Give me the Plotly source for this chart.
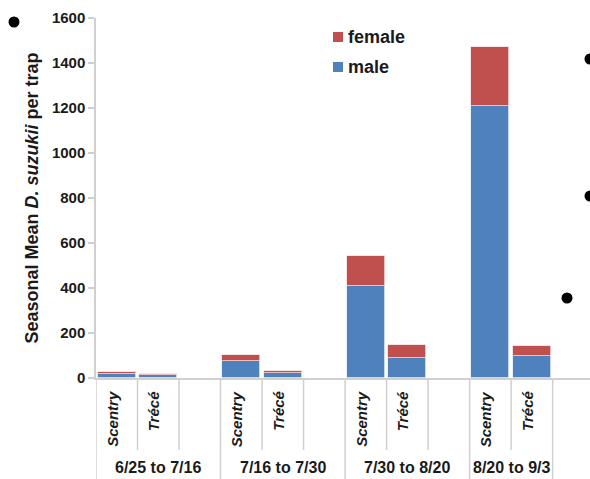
import plotly.graph_objects as go

# ---- data ----
periods = ["6/25 to 7/16", "7/16 to 7/30", "7/30 to 8/20", "8/20 to 9/3"]
traps = ["Scentry", "Trécé"]
male = [[20, 12], [77, 21], [410, 89], [1209, 99]]
female = [[8, 6], [24, 11], [134, 56], [263, 43]]
slots_per_group = [3, 3, 3, 2]
y_ticks = [0, 200, 400, 600, 800, 1000, 1200, 1400, 1600]
legend_items = [("female", "#C0504D"), ("male", "#4F81BD")]

FONT = "Liberation Sans, Arial, sans-serif"
TXT = "#1a1a1a"
AX = "#d0d0d0"
W, H = 590, 479
# page-pixel geometry of the plot area
PX0, PX1, PY0, PY1 = 96, 590, 18, 378
L, T, R, B = PX0, PY0, W - PX1, H - PY1
PW, PH = PX1 - PX0, PY1 - PY0


def xp(px):  # page pixel -> paper x
    return (px - PX0) / PW


def yp(py):  # page pixel -> paper y
    return (PY1 - py) / PH


xs, m_vals, f_vals = [], [], []
for g, p in enumerate(periods):
    for j, t in enumerate(traps):
        xs.append(g * 3 + j)
        m_vals.append(male[g][j])
        f_vals.append(female[g][j])

fig = go.Figure()
fig.add_trace(go.Bar(x=xs, y=m_vals, name="male",
                     marker=dict(color="#4F81BD", line=dict(color="#e6ecf5", width=0.8)), width=0.92))
fig.add_trace(go.Bar(x=xs, y=f_vals, name="female",
                     marker=dict(color="#C0504D", line=dict(color="#f2dcdc", width=0.8)), width=0.92))

shapes = []
annotations = []


def vline(xb, long):
    shapes.append(dict(type="line", xref="x", yref="paper", x0=xb, x1=xb, y0=0,
                       y1=yp(490) if long else yp(450), line=dict(color=AX, width=1.5)))


for g, p in enumerate(periods):
    start = g * 3 - 0.5
    n = slots_per_group[g]
    vline(start, True)
    for k in range(1, n):
        vline(start + k, False)
    if g == len(periods) - 1:
        vline(start + n, True)
    for j, t in enumerate(traps):
        annotations.append(dict(x=g * 3 + j, y=yp(389), xref="x", yref="paper", text="<b><i>%s</i></b>" % t,
                                textangle=-90, showarrow=False, xanchor="center", yanchor="top", xshift=-4,
                                font=dict(family=FONT, size=15, color=TXT)))
    annotations.append(dict(x=g * 3 + (n - 1) / 2, y=yp(467), xref="x", yref="paper",
                            text="<b>%s</b>" % p, showarrow=False, xanchor="center", yanchor="middle",
                            font=dict(family=FONT, size=16, color=TXT)))

# manual legend
for i, (name, col) in enumerate(legend_items):
    cy = 37 + 30 * i
    shapes.append(dict(type="rect", xref="paper", yref="paper", x0=xp(333), x1=xp(343),
                       y0=yp(cy + 5), y1=yp(cy - 5), fillcolor=col, line=dict(width=0)))
    annotations.append(dict(x=xp(346), y=yp(cy), xref="paper", yref="paper", text="<b>%s</b>" % name,
                            showarrow=False, xanchor="left", yanchor="middle",
                            font=dict(family=FONT, size=18, color=TXT)))

# slide bullet dots (decoration)
for (px, py) in [(14, 22), (590, 59), (590, 196), (567, 298)]:
    r = 5.5
    shapes.append(dict(type="circle", xref="paper", yref="paper",
                       x0=xp(px - r), x1=xp(px + r), y0=yp(py + r), y1=yp(py - r),
                       fillcolor="black", line=dict(width=0)))

fig.update_layout(
    width=W, height=H, barmode="stack", bargap=0, showlegend=False,
    margin=dict(l=L, r=R, t=T, b=B),
    plot_bgcolor="white", paper_bgcolor="white",
    font=dict(family=FONT, color=TXT),
    xaxis=dict(range=[-0.5, 11.4], showticklabels=False, ticks="", showgrid=False, zeroline=False,
               showline=True, linecolor=AX, linewidth=1.5),
    yaxis=dict(range=[0, 1600], tickvals=y_ticks, ticks="outside", ticklen=6, tickcolor=AX, tickwidth=1.5,
               showgrid=False, zeroline=False, showline=True, linecolor=AX, linewidth=1.5,
               tickfont=dict(family=FONT, size=15, color=TXT, weight="bold"),
               title=dict(text="<b>Seasonal Mean <i>D. suzukii</i> per trap</b>", standoff=9,
                          font=dict(family=FONT, size=18, color=TXT))),
    shapes=shapes, annotations=annotations,
)

fig.write_html("out.html", config={"displayModeBar": False},
               post_script="document.body.style.margin='0';document.body.style.overflow='hidden';")
